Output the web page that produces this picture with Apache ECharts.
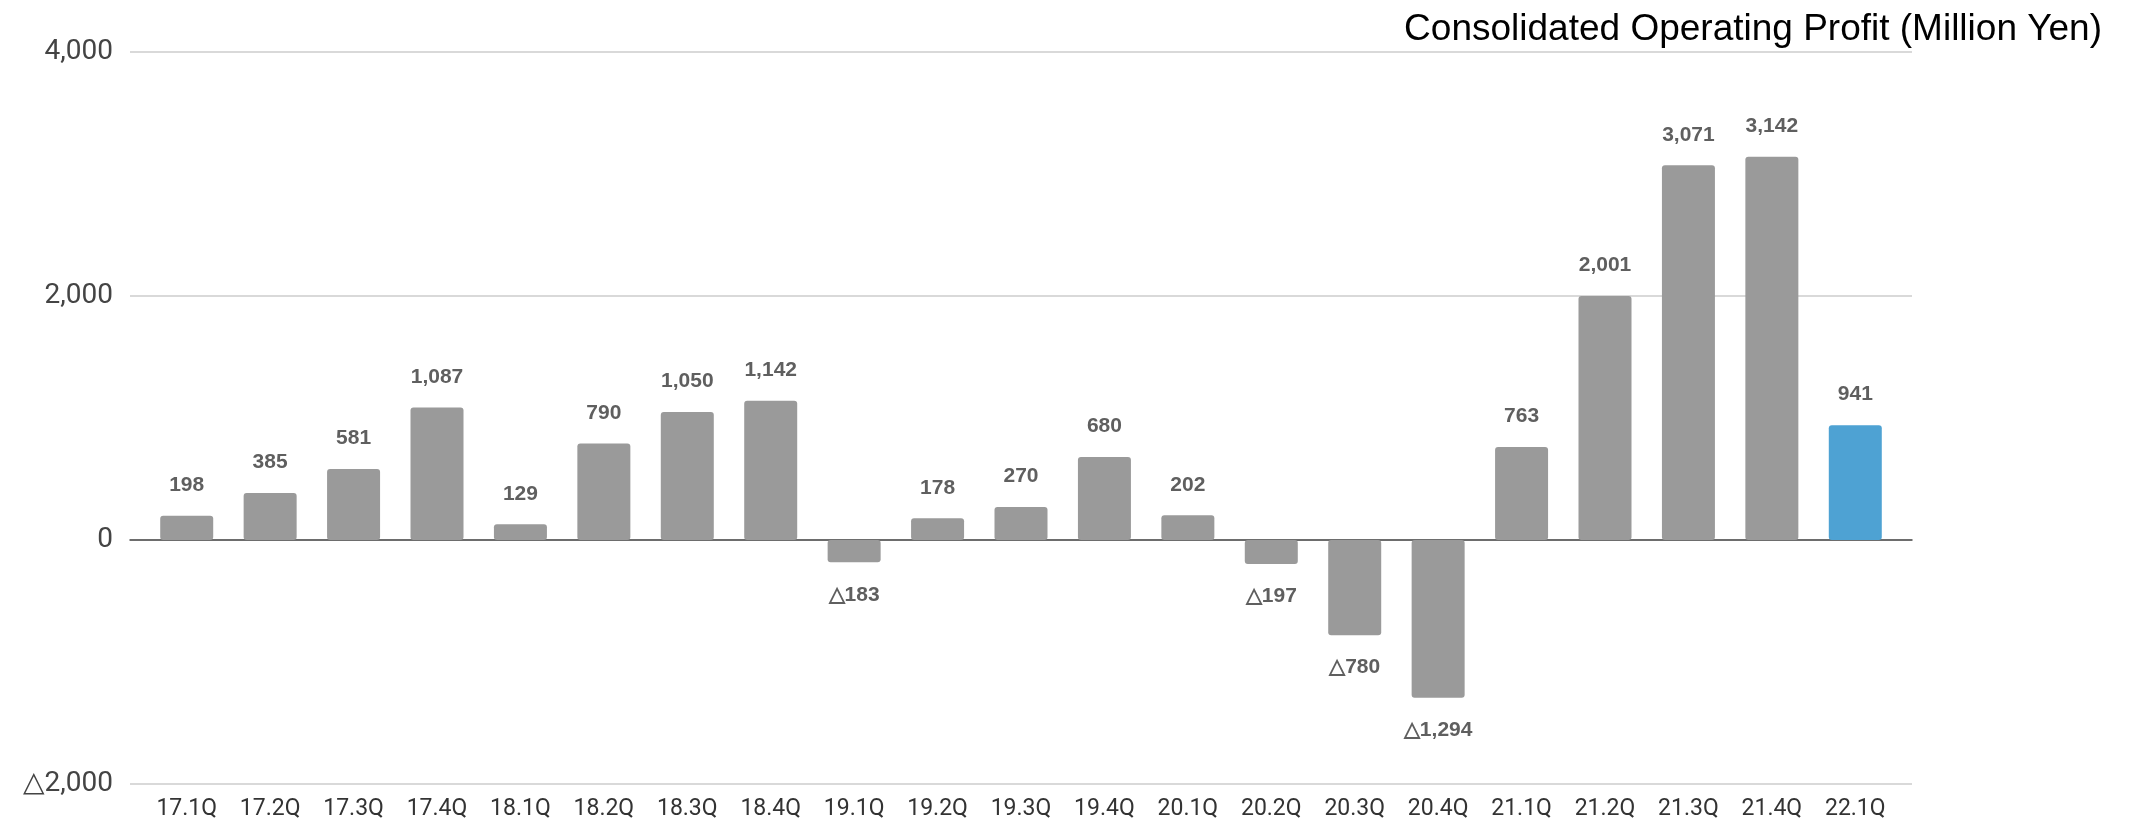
<!DOCTYPE html>
<html>
<head>
<meta charset="utf-8">
<title>Consolidated Operating Profit</title>
<script src="https://cdn.jsdelivr.net/npm/echarts@6/dist/echarts.min.js"></script>
<style>
  html, body { margin: 0; padding: 0; background: #ffffff; }
  #chart { width: 2142px; height: 826px; }
</style>
</head>
<body>
<div id="chart"></div>
<script>
// Quarterly consolidated operating profit, million yen
const quarters = ['17.1Q', '17.2Q', '17.3Q', '17.4Q', '18.1Q', '18.2Q', '18.3Q', '18.4Q',
  '19.1Q', '19.2Q', '19.3Q', '19.4Q', '20.1Q', '20.2Q', '20.3Q', '20.4Q',
  '21.1Q', '21.2Q', '21.3Q', '21.4Q', '22.1Q'];
const operatingProfit = [198, 385, 581, 1087, 129, 790, 1050, 1142,
  -183, 178, 270, 680, 202, -197, -780, -1294,
  763, 2001, 3071, 3142, 941];
const yTicks = [-2000, 0, 2000, 4000];
const chartTitle = 'Consolidated Operating Profit (Million Yen)';

// Negative amounts are written with a leading triangle instead of a minus sign
function fmt(v) {
  const s = Math.abs(v).toLocaleString('en-US');
  return v < 0 ? '\u25B3' + s : s;
}

const latestIndex = quarters.length - 1;
const yMin = yTicks[0];
const yMax = yTicks[yTicks.length - 1];
const yStep = yTicks[1] - yTicks[0];

const chart = echarts.init(document.getElementById('chart'), null, { renderer: 'canvas' });

chart.setOption({
  animation: false,
  backgroundColor: '#ffffff',
  title: {
    text: chartTitle,
    right: 35,
    top: 6,
    textStyle: {
      fontFamily: 'Liberation Sans, Arial, sans-serif',
      fontSize: 37,
      fontWeight: 'normal',
      color: '#000000'
    }
  },
  grid: [
    // wide grid: gridlines, value labels and the zero line
    { left: 130, right: 230, top: 52, bottom: 42 },
    // inner grid: the quarterly bars
    { left: 145, right: 245, top: 52, bottom: 42 }
  ],
  xAxis: [
    {
      gridIndex: 0,
      type: 'value',
      min: 0,
      max: 1,
      axisLine: { show: true, onZero: true, lineStyle: { color: '#4a4a4a', width: 1.5 } },
      axisTick: { show: false },
      axisLabel: { show: false },
      splitLine: { show: false }
    },
    {
      gridIndex: 1,
      type: 'category',
      data: quarters,
      axisLine: { show: false },
      axisTick: { show: false },
      axisLabel: {
        margin: 14,
        fontFamily: 'Roboto, sans-serif',
        fontSize: 23,
        color: '#333333'
      }
    }
  ],
  yAxis: [
    {
      gridIndex: 0,
      type: 'value',
      min: yMin,
      max: yMax,
      interval: yStep,
      axisLine: { show: false },
      axisTick: { show: false },
      axisLabel: {
        margin: 17,
        fontFamily: 'Roboto, sans-serif',
        fontSize: 28,
        color: '#444444',
        formatter: fmt
      },
      splitLine: { show: true, lineStyle: { color: '#d9d9d9', width: 2 } }
    },
    {
      gridIndex: 1,
      type: 'value',
      min: yMin,
      max: yMax,
      interval: yStep,
      show: false,
      splitLine: { show: false }
    }
  ],
  series: [
    {
      type: 'bar',
      xAxisIndex: 1,
      yAxisIndex: 1,
      barWidth: 53,
      z: 3,
      data: operatingProfit.map(function (v) {
        return {
          value: v,
          label: { position: v < 0 ? 'bottom' : 'top', distance: v < 0 ? 22 : 20 }
        };
      }),
      itemStyle: {
        color: function (p) { return p.dataIndex === latestIndex ? '#4ea2d3' : '#9a9a9a'; },
        borderRadius: 3
      },
      label: {
        show: true,
        fontFamily: 'Liberation Sans, Arial, sans-serif',
        fontWeight: 'bold',
        fontSize: 21,
        color: '#5f5f5f',
        formatter: function (p) { return fmt(p.value); }
      }
    }
  ]
});
</script>
</body>
</html>
